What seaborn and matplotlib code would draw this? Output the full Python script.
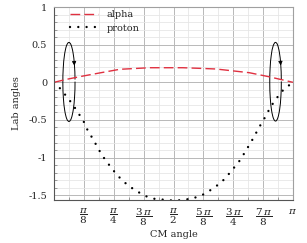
import numpy as np
import pandas as pd
import matplotlib
matplotlib.use("Agg")
import matplotlib.pyplot as plt
import seaborn as sns
from matplotlib.patches import Arc
from matplotlib.ticker import FixedLocator, MultipleLocator

# CM angle (rad) vs lab angle (rad)
alpha_cm = [0.0, 0.166, 0.384, 0.602, 0.864, 1.257, 1.692, 1.911, 2.130, 2.566, 2.827, np.pi]
alpha_lab = [0.0, 0.040, 0.084, 0.125, 0.173, 0.194, 0.194, 0.186, 0.177, 0.128, 0.074, 0.0]

proton_cm = [0.0, 0.092, 0.157, 0.218, 0.279, 0.336, 0.393, 0.436, 0.488, 0.541, 0.589,
             0.645, 0.703, 0.768, 0.838, 0.916, 0.997, 1.090, 1.200, 1.309, 1.571,
             1.692, 1.823, 1.933, 2.033, 2.130, 2.212, 2.287, 2.352, 2.422, 2.478,
             2.530, 2.588, 2.640, 2.687, 2.740, 2.792, 2.840, 2.902, 2.962, 3.024, np.pi]
proton_lab = [0.0, -0.093, -0.178, -0.257, -0.345, -0.434, -0.527, -0.624, -0.713, -0.806, -0.895,
              -0.988, -1.068, -1.155, -1.240, -1.320, -1.386, -1.447, -1.510, -1.546, -1.571,
              -1.564, -1.541, -1.506, -1.448, -1.381, -1.315, -1.231, -1.151, -1.068, -0.981,
              -0.894, -0.797, -0.704, -0.614, -0.523, -0.434, -0.337, -0.245, -0.163, -0.089, 0.0]

xtick_vals = [k * np.pi / 8 for k in range(1, 9)]
xtick_labels = [r'$\dfrac{\pi}{8}$', r'$\dfrac{\pi}{4}$', r'$\dfrac{3\,\pi}{8}$', r'$\dfrac{\pi}{2}$',
                r'$\dfrac{5\,\pi}{8}$', r'$\dfrac{3\,\pi}{4}$', r'$\dfrac{7\,\pi}{8}$', r'$\pi$']
ytick_vals = [1, 0.5, 0, -0.5, -1, -1.5]
ytick_labels = ['1', '0.5', '0', '-0.5', '-1', '-1.5']

sns.set_theme(style="whitegrid")
plt.rcParams['font.family'] = ['DejaVu Serif']
plt.rcParams['mathtext.fontset'] = 'dejavuserif'

fig = plt.figure(figsize=(3.07, 2.43), dpi=100)
ax = fig.add_axes([0.1759, 0.177, 0.7785, 0.794])

sns.lineplot(x=alpha_cm, y=alpha_lab, ax=ax, color='#e03040', lw=1.0,
             linestyle=(0, (7, 3)), label='alpha', sort=False)
sns.lineplot(x=proton_cm, y=proton_lab, ax=ax, color='black', lw=1.7,
             linestyle=(0, (0.01, 3.5)), dash_capstyle='round', label='proton', sort=False)

ax.set_xlim(0, np.pi)
ax.set_ylim(-1.563, 1.0)

ax.xaxis.set_major_locator(FixedLocator(xtick_vals))
ax.set_xticklabels(xtick_labels, fontsize=7.5)
ax.xaxis.set_minor_locator(MultipleLocator(np.pi / 16))
ax.yaxis.set_major_locator(FixedLocator(ytick_vals))
ax.set_yticklabels(ytick_labels, fontsize=7)
ax.yaxis.set_minor_locator(MultipleLocator(0.1))

ax.grid(which='major', color='#b8b8b8', lw=0.7)
ax.grid(which='minor', color='#e6e6e6', lw=0.6)
ax.tick_params(which='major', direction='out', length=3, width=0.7, color='#555555', pad=2)
ax.tick_params(which='minor', direction='in', length=2, width=0.5, color='#777777',
               bottom=True, left=True)
for side in ['left', 'bottom']:
    ax.spines[side].set_color('#555555')
    ax.spines[side].set_linewidth(0.8)
for side in ['top', 'right']:
    ax.spines[side].set_color('#a0a0a0')
    ax.spines[side].set_linewidth(0.8)

ax.set_xlabel('CM angle', fontsize=7, labelpad=1)
ax.set_ylabel('Lab angles', fontsize=7, labelpad=5)

leg = ax.legend(loc='upper left', bbox_to_anchor=(0.067, 0.985), frameon=False,
                fontsize=7, handlelength=2.9, handletextpad=0.9, labelspacing=0.5,
                borderpad=0, borderaxespad=0)

# rotation loops around the forward/backward regions
for cx, cy, w, h in [(np.pi / 16, 0.005, 0.16, 1.05), (2.912, 0.008, 0.152, 1.045)]:
    ax.add_patch(Arc((cx, cy), w, h, theta1=22, theta2=363, color='black', lw=0.7))
    t = np.deg2rad(20)
    tip = (cx + w / 2 * np.cos(t), cy + h / 2 * np.sin(t))
    tail = (cx + w / 2 * np.cos(t + 0.25), cy + h / 2 * np.sin(t + 0.25))
    ax.annotate('', xy=tip, xytext=tail,
                arrowprops=dict(arrowstyle='-|>', color='black', lw=0.6, mutation_scale=6))

fig.savefig('out.png', dpi=100)
